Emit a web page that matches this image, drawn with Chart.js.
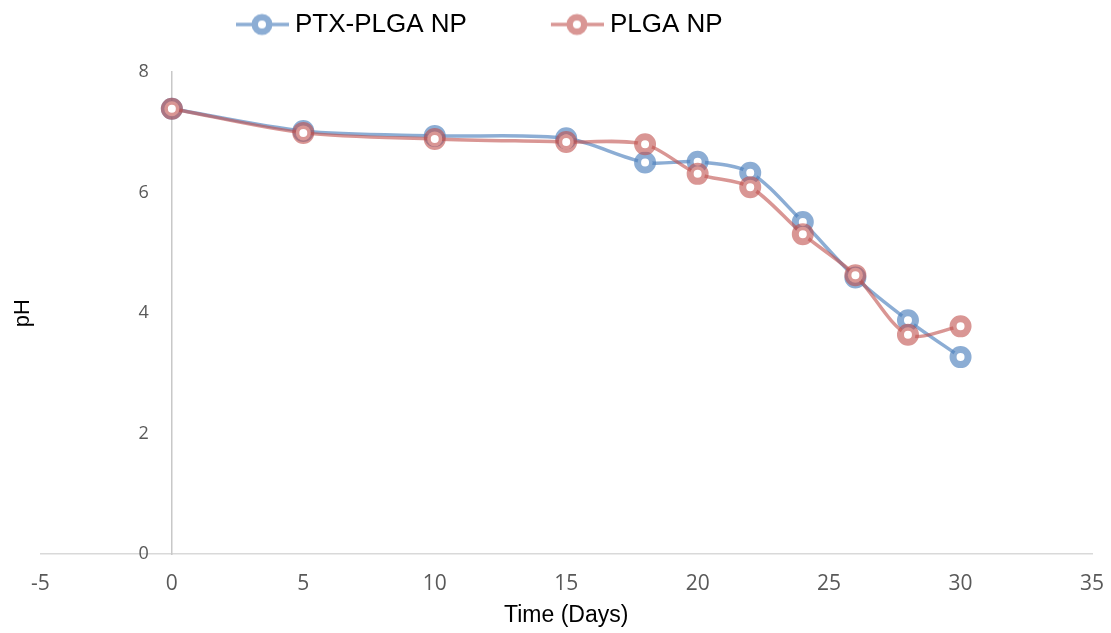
<!DOCTYPE html>
<html><head><meta charset="utf-8">
<script src="https://cdn.jsdelivr.net/npm/chart.js@4.4.1/dist/chart.umd.min.js"></script>
<style>html,body{margin:0;padding:0;background:#fff;} #wrap{width:1111px;height:633px;position:relative;}</style>
</head><body><div id="wrap"><canvas id="c" width="1111" height="633"></canvas></div>
<script>
const days = [0, 5, 10, 15, 18, 20, 22, 24, 26, 28, 30];
const ptxPlgaPH = [7.39, 7.02, 6.94, 6.90, 6.50, 6.51, 6.33, 5.51, 4.59, 3.88, 3.27];
const plgaPH = [7.39, 6.99, 6.89, 6.84, 6.80, 6.31, 6.09, 5.31, 4.63, 3.64, 3.78];
const xTickValues = [-5, 0, 5, 10, 15, 20, 25, 30, 35];
const yTickValues = [0, 2, 4, 6, 8];
const seriesNames = ['PTX-PLGA NP', 'PLGA NP'];
const xTitle = 'Time (Days)';
const yTitle = 'pH';

const BLUE = 'rgba(79,129,189,0.65)';
const RED = 'rgba(192,80,77,0.6)';
const BLUE_SOLID = '#8cadd4';
const RED_SOLID = '#d99694';

function legendIcon(color) {
  const c = document.createElement('canvas');
  c.width = 60; c.height = 26;
  const g = c.getContext('2d');
  g.strokeStyle = color; g.lineWidth = 3.5;
  g.beginPath(); g.moveTo(7, 13); g.lineTo(60, 13); g.stroke();
  g.beginPath(); g.arc(33, 13, 7.25, 0, Math.PI * 2);
  g.fillStyle = '#fff'; g.fill();
  g.lineWidth = 6.5; g.stroke();
  return c;
}
const blueIcon = legendIcon(BLUE_SOLID);
const redIcon = legendIcon(RED_SOLID);

const LEG_FONT = 26;
const LEG_PAD = 84;
const legendPlacer = {
  id: 'legendPlacer',
  beforeInit(chart) {
    const L = chart.legend;
    const f = L.fit;
    L.fit = function () { f.call(this); this.height = 72; };
  },
  beforeDraw(chart) {
    const L = chart.legend;
    L.left = 236 - LEG_PAD;
    L.top = 24.5 - LEG_PAD - LEG_FONT / 2;
  }
};

function shiftYLabels(scale) {
  const proto = Object.getPrototypeOf(scale);
  scale._computeLabelItems = function (ca) {
    const items = proto._computeLabelItems.call(this, ca);
    items.forEach(it => {
      if (it.options && it.options.translation) it.options.translation[0] -= 23;
    });
    return items;
  };
}

function pts(ys) { return days.map((d, i) => ({ x: d, y: ys[i] })); }

function series(label, ys, color) {
  return {
    label, data: pts(ys), yAxisID: 'y',
    borderColor: color, backgroundColor: '#fff',
    borderWidth: 3.5, tension: 0.3,
    pointRadius: 7.5, pointBorderWidth: 7,
    pointBackgroundColor: '#fff', pointBorderColor: color,
    pointHoverRadius: 7.5
  };
}

new Chart(document.getElementById('c'), {
  type: 'line',
  data: {
    datasets: [
      series(seriesNames[1], plgaPH, RED),
      series(seriesNames[0], ptxPlgaPH, BLUE)
    ]
  },
  options: {
    responsive: false, animation: false, devicePixelRatio: 1,
    layout: { padding: { left: 6, right: 19, top: 0, bottom: 0 } },
    plugins: {
      tooltip: { enabled: false },
      legend: {
        reverse: true, align: 'start',
        labels: {
          usePointStyle: true, pointStyleWidth: 46, padding: LEG_PAD,
          color: '#000', font: { family: '"Liberation Sans", Arial, sans-serif', size: LEG_FONT },
          generateLabels(chart) {
            const items = Chart.defaults.plugins.legend.labels.generateLabels(chart);
            items.forEach(it => { it.pointStyle = it.datasetIndex === 0 ? redIcon : blueIcon; });
            return items;
          }
        }
      }
    },
    scales: {
      x: {
        type: 'linear', min: -5, max: 35,
        afterBuildTicks: s => { s.ticks = xTickValues.map(v => ({ value: v })); },
        grid: { display: true, drawOnChartArea: false, drawTicks: true, tickLength: 14, color: 'rgba(0,0,0,0)' },
        border: { color: '#d9d9d9', width: 1.5 },
        ticks: { padding: 3, color: '#595959', font: { family: '"Open Sans", sans-serif', size: 21 } },
        title: { display: true, text: xTitle, color: '#000', font: { family: '"Liberation Sans", Arial, sans-serif', size: 23 }, padding: { top: 2, bottom: 4 } }
      },
      y: {
        type: 'linear', position: { x: 0 }, min: 0, max: 8,
        afterBuildTicks: s => { s.ticks = yTickValues.map(v => ({ value: v })); },
        afterUpdate: shiftYLabels,
        grid: { display: false, drawTicks: false },
        border: { color: '#c8c8c8', width: 1.5 },
        ticks: { padding: 0, color: '#595959', font: { family: '"Open Sans", sans-serif', size: 18 } }
      },
      yTitleAxis: {
        type: 'linear', axis: 'y', position: 'left', min: 0, max: 8,
        grid: { display: false, drawTicks: false },
        border: { display: false },
        ticks: { display: false },
        title: { display: true, text: yTitle, color: '#000', font: { family: '"Liberation Sans", Arial, sans-serif', size: 22 }, padding: { top: 4, bottom: 4 } }
      }
    }
  },
  plugins: [legendPlacer]
});
</script>
</body></html>
